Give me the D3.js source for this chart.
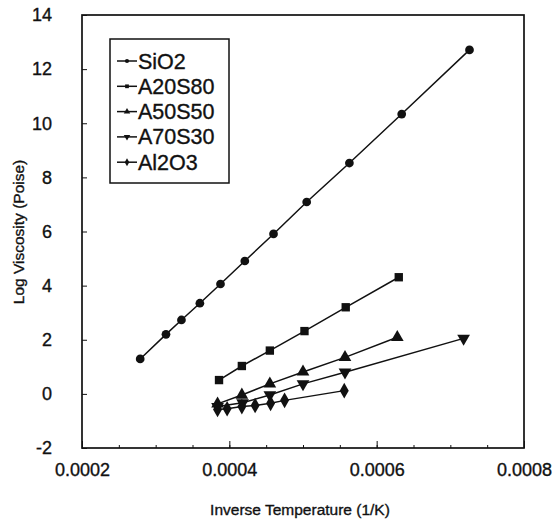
<!DOCTYPE html>
<html>
<head>
<meta charset="utf-8">
<script src="https://cdn.jsdelivr.net/npm/d3@7"></script>
<style>
  body { margin: 0; background: #fff; }
  svg text { font-family: "Liberation Sans", Arial, sans-serif; fill: #111; stroke: #111; stroke-width: 0.35px; }
</style>
</head>
<body>
<div id="chart"></div>
<script>
(function () {

    // series names as in the legend
    const seriesNames = ["SiO2", "A20S80", "A50S50", "A70S30", "Al2O3"];

    // inverse temperature (1/K) and log viscosity for each series
    const sio2X = [0.000279, 0.000314, 0.000335, 0.000360, 0.000388, 0.000421, 0.000460, 0.000505, 0.000563, 0.000634, 0.000726];
    const sio2Y = [1.29, 2.20, 2.73, 3.35, 4.06, 4.91, 5.91, 7.09, 8.53, 10.34, 12.71];

    const a20s80X = [0.000386, 0.000417, 0.000455, 0.000502, 0.000558, 0.000630];
    const a20s80Y = [0.51, 1.03, 1.60, 2.32, 3.20, 4.31];

    const a50s50X = [0.000384, 0.000417, 0.000455, 0.000500, 0.000557, 0.000628];
    const a50s50Y = [-0.37, -0.04, 0.37, 0.81, 1.35, 2.09];

    const a70s30X = [0.000384, 0.000418, 0.000455, 0.000500, 0.000557, 0.000718];
    const a70s30Y = [-0.47, -0.33, -0.04, 0.37, 0.80, 2.05];

    const al2o3X = [0.000384, 0.000397, 0.000417, 0.000435, 0.000456, 0.000475, 0.000556];
    const al2o3Y = [-0.58, -0.55, -0.47, -0.43, -0.35, -0.24, 0.12];

    const xTicks = [0.0002, 0.0004, 0.0006, 0.0008];
    const xMinorTicks = d3.range(0.0002, 0.00080001, 0.00005);
    const yTicks = [-2, 0, 2, 4, 6, 8, 10, 12, 14];

    const W = 556, H = 523;

    const svg = d3.select("#chart")
        .append("svg")
        .attr("width", W)
        .attr("height", H);

    const x = d3.scaleLinear().domain([0.0002, 0.0008]).range([82, 524]);
    const y = d3.scaleLinear().domain([-2, 14]).range([448, 15]);

    // frame
    svg.append("rect")
        .attr("x", x(0.0002))
        .attr("y", y(14))
        .attr("width", x(0.0008) - x(0.0002))
        .attr("height", y(-2) - y(14))
        .attr("fill", "none")
        .attr("stroke", "#111")
        .attr("stroke-width", 1.7);

    // bottom axis: minor ticks inward, labels below
    const xAxis = svg.append("g")
        .attr("transform", `translate(0,${y(-2)})`)
        .call(d3.axisBottom(x).tickValues(xMinorTicks).tickSize(-3).tickFormat(""));
    xAxis.select(".domain").remove();
    xAxis.selectAll("line").attr("stroke", "#111");

    const xMajor = svg.append("g")
        .attr("transform", `translate(0,${y(-2)})`)
        .call(d3.axisBottom(x).tickValues(xTicks).tickSize(-7).tickPadding(15)
            .tickFormat(d3.format(".4f")));
    xMajor.select(".domain").remove();
    xMajor.selectAll("line").attr("stroke", "#111");
    xMajor.selectAll("text")
        .style("font-size", "18px")
        .attr("fill", "#111");

    // left axis (plain hyphen for negatives, as in the original)
    const yAxis = svg.append("g")
        .attr("transform", `translate(${x(0.0002)},0)`)
        .call(d3.axisLeft(y).tickValues(yTicks).tickSize(-5).tickPadding(30)
            .tickFormat(d => String(d)));
    yAxis.select(".domain").remove();
    yAxis.selectAll("line").attr("stroke", "#111");
    yAxis.selectAll("text")
        .style("font-size", "18px")
        .attr("fill", "#111");

    // axis titles
    svg.append("text")
        .attr("x", 300)
        .attr("y", 515)
        .attr("text-anchor", "middle")
        .style("font-size", "15.5px")
        .text("Inverse Temperature (1/K)");

    svg.append("text")
        .attr("transform", "rotate(-90)")
        .attr("x", -232)
        .attr("y", 24)
        .attr("text-anchor", "middle")
        .style("font-size", "15.5px")
        .text("Log Viscosity (Poise)");

    // series
    const series = [
        { name: seriesNames[0], xs: sio2X, ys: sio2Y, sym: d3.symbolCircle, size: 60, rot: 0, lg: 14 },
        { name: seriesNames[1], xs: a20s80X, ys: a20s80Y, sym: d3.symbolSquare, size: 70, rot: 0, lg: 14 },
        { name: seriesNames[2], xs: a50s50X, ys: a50s50Y, sym: d3.symbolTriangle, size: 70, rot: 0, lg: 18 },
        { name: seriesNames[3], xs: a70s30X, ys: a70s30Y, sym: d3.symbolTriangle, size: 70, rot: 180, lg: 18 },
        { name: seriesNames[4], xs: al2o3X, ys: al2o3Y, sym: d3.symbolDiamond, size: 70, rot: 0, lg: 18 }
    ];

    const line = d3.line().x(d => x(d[0])).y(d => y(d[1]));

    series.forEach(s => {
        const pts = s.xs.map((v, i) => [v, s.ys[i]]);
        svg.append("path")
            .datum(pts)
            .attr("d", line)
            .attr("fill", "none")
            .attr("stroke", "#111")
            .attr("stroke-width", 1.5);
        svg.selectAll(null)
            .data(pts)
            .enter()
            .append("path")
            .attr("d", d3.symbol().type(s.sym).size(s.size))
            .attr("transform", d => `translate(${x(d[0])},${y(d[1])}) rotate(${s.rot})`)
            .attr("fill", "#111");
    });

    // legend
    const legend = svg.append("g").attr("transform", "translate(110,39)");
    legend.append("rect")
        .attr("width", 119)
        .attr("height", 144)
        .attr("fill", "#fff")
        .attr("stroke", "#111")
        .attr("stroke-width", 1.5);

    series.forEach((s, i) => {
        const g = legend.append("g").attr("transform", `translate(0,${22 + i * 25.3})`);
        g.append("line")
            .attr("x1", 7).attr("x2", 27)
            .attr("stroke", "#111").attr("stroke-width", 1.5);
        g.append("path")
            .attr("d", d3.symbol().type(s.sym).size(s.lg))
            .attr("transform", `translate(17,0) rotate(${s.rot})`)
            .attr("fill", "#111");
        g.append("text")
            .attr("x", 28)
            .attr("y", 7.5)
            .style("font-size", "21.5px")
            .text(s.name);
    });

})();
</script>
</body>
</html>
